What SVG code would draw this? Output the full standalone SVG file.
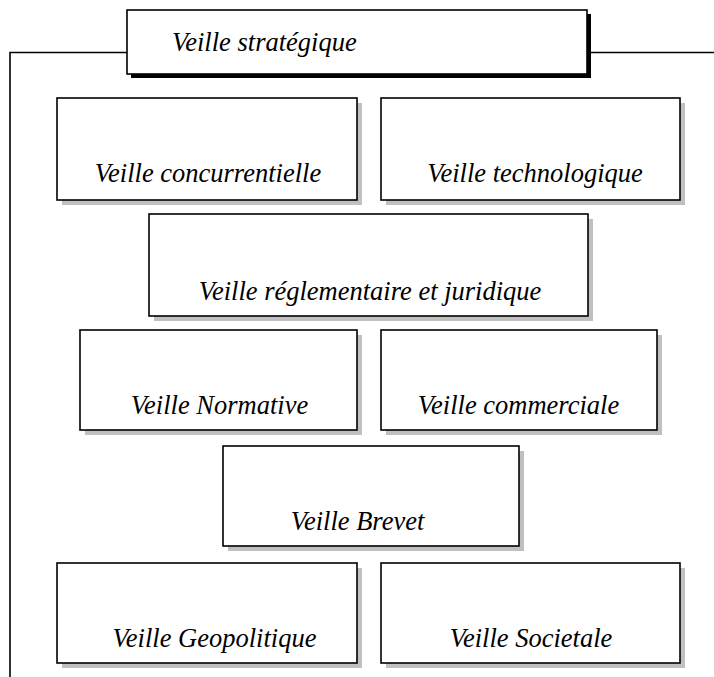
<svg xmlns="http://www.w3.org/2000/svg" width="714" height="677" viewBox="0 0 714 677">
<style>
.box{fill:#fff;stroke:#000;stroke-width:1.6}
.sh{fill:#c0c0c0}
.shk{fill:#000}
.t{font-family:"Liberation Serif","Times New Roman",serif;font-style:italic;font-size:26.5px;fill:#000;text-anchor:middle}
.ln{fill:none;stroke:#000;stroke-width:1.6}
</style>
<rect width="714" height="677" fill="#fff"/>
<g id="connectors">
<polyline class="ln" points="127,52.5 10,52.5 10,677"/>
<line class="ln" x1="587" y1="52.5" x2="714" y2="52.5"/>
</g>
<g id="n0">
<rect class="shk" x="131" y="14" width="460" height="64"/>
<rect class="box" x="127" y="10" width="460" height="64"/>
<text class="t" x="172" y="51" style="text-anchor:start">Veille stratégique</text>
</g>
<g id="n1">
<rect class="sh" x="62" y="103" width="300" height="102"/>
<rect class="box" x="57" y="98" width="300" height="102"/>
<text class="t" x="208" y="182">Veille concurrentielle</text>
</g>
<g id="n2">
<rect class="sh" x="386" y="103" width="299" height="102"/>
<rect class="box" x="381" y="98" width="299" height="102"/>
<text class="t" x="535" y="182">Veille technologique</text>
</g>
<g id="n3">
<rect class="sh" x="154" y="219" width="439" height="102"/>
<rect class="box" x="149" y="214" width="439" height="102"/>
<text class="t" x="370" y="300">Veille réglementaire et juridique</text>
</g>
<g id="n4">
<rect class="sh" x="85" y="335" width="277" height="100"/>
<rect class="box" x="80" y="330" width="277" height="100"/>
<text class="t" x="219.5" y="414">Veille Normative</text>
</g>
<g id="n5">
<rect class="sh" x="386" y="335" width="276" height="100"/>
<rect class="box" x="381" y="330" width="276" height="100"/>
<text class="t" x="518.5" y="414">Veille commerciale</text>
</g>
<g id="n6">
<rect class="sh" x="228" y="451" width="296" height="100"/>
<rect class="box" x="223" y="446" width="296" height="100"/>
<text class="t" x="357.5" y="530">Veille Brevet</text>
</g>
<g id="n7">
<rect class="sh" x="62" y="568" width="300" height="100"/>
<rect class="box" x="57" y="563" width="300" height="100"/>
<text class="t" x="214.5" y="647">Veille Geopolitique</text>
</g>
<g id="n8">
<rect class="sh" x="386" y="568" width="299" height="100"/>
<rect class="box" x="381" y="563" width="299" height="100"/>
<text class="t" x="531" y="647">Veille Societale</text>
</g>
</svg>
